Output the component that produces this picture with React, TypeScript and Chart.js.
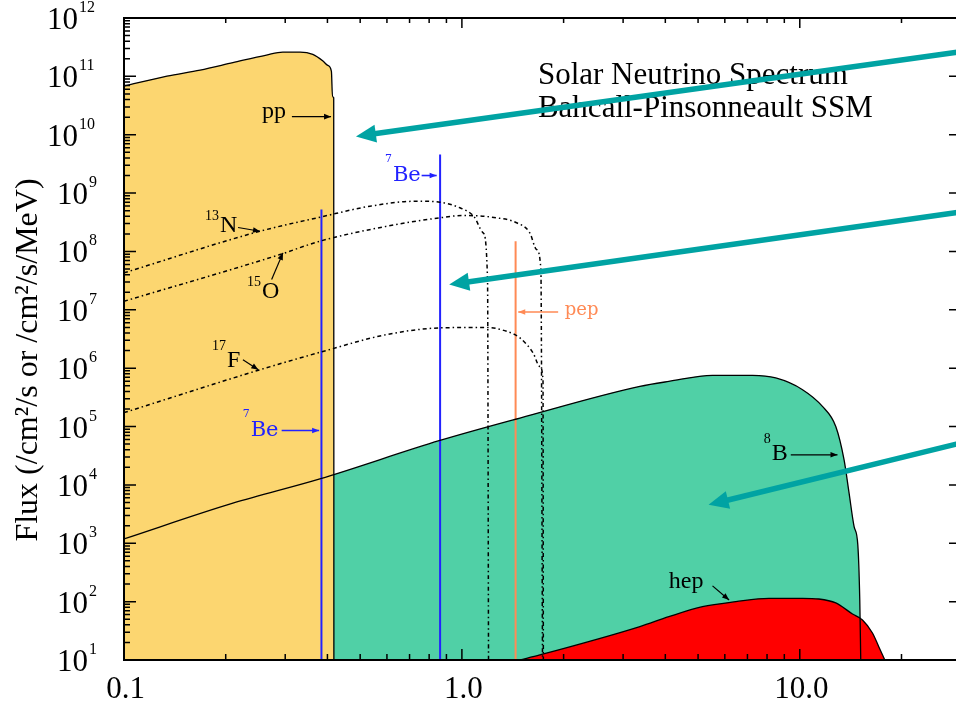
import { useEffect, useRef } from 'react';
import { Chart, registerables } from 'chart.js';

Chart.register(...registerables);

// ---------- axes ----------
const X_MIN = 0.1;
const X_MAX = 30;
const Y_MIN = 10;
const Y_MAX = 1e12;
const xTickValues = [0.1, 1, 10];
const xTickLabels = ['0.1', '1.0', '10.0'];
const yTickExponents = [1, 2, 3, 4, 5, 6, 7, 8, 9, 10, 11, 12];
const yAxisTitle = 'Flux (/cm²/s or /cm²/s/MeV)';
const titleLines = ['Solar Neutrino Spectrum', 'Bahcall-Pinsonneault SSM'];
const titleX = 1.679;
const titleY = [7.29e10, 1.98e10];

// ---------- spectra (energy MeV, flux) ----------
const ppEnergy = [0.1, 0.134, 0.168, 0.21, 0.264, 0.295, 0.332, 0.362, 0.388, 0.401, 0.411, 0.414, 0.4175, 0.418];
const ppFlux = [6.8e10, 1.01e11, 1.28e11, 1.72e11, 2.32e11, 2.61e11, 2.61e11, 2.38e11, 1.83e11, 1.54e11, 1.22e11, 4.5e10, 4.3e10, 10];

const b8Energy = [0.1, 0.21, 0.38, 0.861, 1.485, 3.363, 4.097, 5.517, 7.245, 8.49, 10.19, 11.67, 12.78, 13.52, 13.99, 14.48, 14.85, 15.05, 15.15];
const b8Flux = [1.19e3, 4.87e3, 1.27e4, 5.78e4, 1.4e5, 4.88e5, 5.94e5, 7.53e5, 7.53e5, 6.79e5, 4.28e5, 2.21e5, 1.0e5, 2.7e4, 7.3e3, 1.93e3, 9.4e2, 1.07e2, 10];

const hepEnergy = [1.485, 1.701, 3.363, 4.097, 5.153, 6.467, 8.096, 10.19, 11.38, 12.78, 14.32, 15.33, 16.41, 17.13, 17.85];
const hepFlux = [10, 12.2, 37.3, 55.3, 82, 100, 114, 114, 111, 95, 61.5, 48.5, 29, 16.9, 10];

const n13Energy = [0.1, 0.2526, 0.3845, 0.5343, 0.7345, 0.8608, 0.9865, 1.08, 1.156, 1.191, 1.199];
const n13Flux = [4.3e7, 2.22e8, 3.92e8, 5.96e8, 7.26e8, 6.98e8, 5.6e8, 4.13e8, 2.08e8, 3.3e7, 10];

const o15Energy = [0.1, 0.2894, 0.3801, 0.5988, 0.8608, 1.009, 1.267, 1.451, 1.589, 1.663, 1.713, 1.732];
const o15Flux = [1.4e7, 8.85e7, 1.5e8, 2.7e8, 3.77e8, 4.13e8, 3.77e8, 3.1e8, 2.08e8, 1.08e8, 4.9e7, 10];

const f17Energy = [0.1, 0.2526, 0.3801, 0.5988, 0.8608, 1.183, 1.356, 1.485, 1.625, 1.701, 1.738, 1.742];
const f17Flux = [1.73e5, 9.4e5, 1.87e6, 3.76e6, 4.9e6, 5.0e6, 4.28e6, 3.3e6, 1.82e6, 1.07e6, 6.35e5, 10];

// line sources
const be7Energy = [0.384, 0.862];
const be7Flux = [5.24e8, 4.6e9];
const pepEnergy = [1.442];
const pepFlux = [1.5e8];

// ---------- colours ----------
const YELLOW = '#FCD670';
const GREEN = '#50D0A6';
const RED = '#FF0000';
const BLUE = '#2222FF';
const ORANGE = '#FF8A55';
const TEAL = '#00A3A3';

// ---------- annotations (data coordinates) ----------
type Note = {
  text: string; sup?: string; x: number; y: number; color: string; alt: boolean;
  size: number; supSize: number; supDy: number; arrow: number[];
};
const notes: Note[] = [
  { text: 'pp', x: 0.256, y: 1.905e10, color: '#000', alt: false, size: 24, supSize: 14, supDy: 0, arrow: [0.314, 2.04e10, 0.41, 2.04e10] },
  { text: 'N', sup: '13', x: 0.1737, y: 2.19e8, color: '#000', alt: false, size: 24, supSize: 14, supDy: 12, arrow: [0.2175, 2.57e8, 0.2526, 2.22e8] },
  { text: 'O', sup: '15', x: 0.2311, y: 1.62e7, color: '#000', alt: false, size: 24, supSize: 14, supDy: 12, arrow: [0.2735, 3.3e7, 0.2954, 9.46e7] },
  { text: 'F', sup: '17', x: 0.1821, y: 1.06e6, color: '#000', alt: false, size: 24, supSize: 14, supDy: 17, arrow: [0.2249, 1.4e6, 0.2497, 9.42e5] },
  { text: 'Be', sup: '7', x: 0.2245, y: 6.76e4, color: BLUE, alt: true, size: 21, supSize: 11, supDy: 19, arrow: [0.2928, 8.57e4, 0.378, 8.57e4] },
  { text: 'Be', sup: '7', x: 0.5918, y: 1.6e9, color: BLUE, alt: true, size: 21, supSize: 11, supDy: 19, arrow: [0.76, 2.0e9, 0.842, 2.0e9] },
  { text: 'pep', x: 2.017, y: 8.28e6, color: ORANGE, alt: true, size: 18, supSize: 11, supDy: 0, arrow: [1.927, 9.2e6, 1.468, 9.2e6] },
  { text: 'B', sup: '8', x: 7.827, y: 2.7e4, color: '#000', alt: false, size: 24, supSize: 14, supDy: 17, arrow: [9.405, 3.28e4, 12.93, 3.28e4] },
  { text: 'hep', x: 4.097, y: 171.8, color: '#000', alt: false, size: 24, supSize: 14, supDy: 0, arrow: [5.517, 186, 6.177, 107] },
];

// big teal pointer arrows: [tailX, tailY, tipX, tipY]
const pointerArrows = [
  [32.95, 2.87e11, 0.4858, 9.35e9],
  [32.95, 5.15e8, 0.917, 2.71e7],
  [32.95, 5.98e4, 5.37, 4.56e3],
];

const SERIF = '"Liberation Serif", "Times New Roman", serif';
const ALT = '"DejaVu Serif", serif';

const pts = (xs: number[], ys: number[]) => xs.map((x, i) => ({ x, y: ys[i] }));

function arrowHead(ctx: CanvasRenderingContext2D, x1: number, y1: number, x2: number, y2: number, len: number, half: number) {
  const a = Math.atan2(y2 - y1, x2 - x1);
  ctx.beginPath();
  ctx.moveTo(x2, y2);
  ctx.lineTo(x2 - len * Math.cos(a) + half * Math.sin(a), y2 - len * Math.sin(a) - half * Math.cos(a));
  ctx.lineTo(x2 - len * Math.cos(a) - half * Math.sin(a), y2 - len * Math.sin(a) + half * Math.cos(a));
  ctx.closePath();
  ctx.fill();
}

const overlay = {
  id: 'overlay',
  afterDraw(chart: any) {
    const { ctx, chartArea: a, scales } = chart;
    const xs = scales.x;
    const ys = scales.y;
    const X = (v: number) => xs.getPixelForValue(v);
    const Y = (v: number) => ys.getPixelForValue(v);
    ctx.save();

    // frame
    ctx.strokeStyle = '#000';
    ctx.lineWidth = 2;
    ctx.strokeRect(a.left, a.top, a.right - a.left, a.bottom - a.top);

    // ticks
    ctx.lineWidth = 1.5;
    ctx.beginPath();
    for (let d = -1; d <= 1; d++) {
      for (let m = 1; m <= 9; m++) {
        const v = m * Math.pow(10, d);
        if (v < X_MIN * 0.999 || v > X_MAX * 1.001) continue;
        const px = X(v);
        const major = m === 1;
        ctx.moveTo(px, a.bottom); ctx.lineTo(px, a.bottom - (major ? 11 : 6));
        ctx.moveTo(px, a.top); ctx.lineTo(px, a.top + (major ? 10 : 5));
      }
    }
    for (let d = 1; d <= 12; d++) {
      for (let m = 1; m <= 9; m++) {
        const v = m * Math.pow(10, d);
        if (v > Y_MAX * 1.001) continue;
        const py = Y(v);
        const major = m === 1;
        ctx.moveTo(a.left, py); ctx.lineTo(a.left + (major ? 12 : 6), py);
        ctx.moveTo(a.right, py); ctx.lineTo(a.right - (major ? 12 : 5), py);
      }
    }
    ctx.stroke();

    // tick labels
    ctx.fillStyle = '#000';
    ctx.textBaseline = 'alphabetic';
    ctx.font = `31px ${SERIF}`;
    ctx.textAlign = 'center';
    xTickValues.forEach((v, i) => ctx.fillText(xTickLabels[i], X(v) + 1.5, a.bottom + 38));
    yTickExponents.forEach((e) => {
      const py = Y(Math.pow(10, e));
      const s = String(e);
      const right10 = a.left - 26 - 10 * s.length;
      ctx.font = `31px ${SERIF}`;
      ctx.textAlign = 'right';
      ctx.fillText('10', right10, py + 11);
      ctx.font = `16px ${SERIF}`;
      ctx.textAlign = 'left';
      ctx.fillText(s, right10 + 1, py - 6);
    });

    // y axis title
    ctx.save();
    ctx.translate(37, 360);
    ctx.rotate(-Math.PI / 2);
    ctx.font = `32px ${SERIF}`;
    ctx.textAlign = 'center';
    ctx.fillText(yAxisTitle, 0, 0);
    ctx.restore();

    // chart title
    ctx.font = `31px ${SERIF}`;
    ctx.textAlign = 'left';
    titleLines.forEach((t, i) => ctx.fillText(t, X(titleX), Y(titleY[i])));

    // annotations
    notes.forEach((n) => {
      const fam = n.alt ? ALT : SERIF;
      ctx.fillStyle = n.color;
      ctx.strokeStyle = n.color;
      let px = X(n.x);
      const py = Y(n.y);
      if (n.sup) {
        ctx.font = `${n.supSize}px ${fam}`;
        ctx.fillText(n.sup, px, py - n.supDy);
        px += ctx.measureText(n.sup).width + 1;
      }
      ctx.font = `${n.size}px ${fam}`;
      ctx.fillText(n.text, px, py);
      const [ax1, ay1, ax2, ay2] = n.arrow;
      const x1 = X(ax1), y1 = Y(ay1), x2 = X(ax2), y2 = Y(ay2);
      ctx.lineWidth = n.alt ? 1.6 : 1.2;
      ctx.beginPath();
      ctx.moveTo(x1, y1);
      ctx.lineTo(x2, y2);
      ctx.stroke();
      arrowHead(ctx, x1, y1, x2, y2, 7, 2.8);
    });

    // teal pointer arrows
    ctx.fillStyle = TEAL;
    ctx.strokeStyle = TEAL;
    ctx.lineWidth = 5.5;
    ctx.lineCap = 'butt';
    pointerArrows.forEach(([tx, ty, hx, hy]) => {
      const x1 = X(tx), y1 = Y(ty), x2 = X(hx), y2 = Y(hy);
      const ang = Math.atan2(y2 - y1, x2 - x1);
      ctx.beginPath();
      ctx.moveTo(x1, y1);
      ctx.lineTo(x2 - 15 * Math.cos(ang), y2 - 15 * Math.sin(ang));
      ctx.stroke();
      arrowHead(ctx, x1, y1, x2, y2, 20, 9);
    });

    ctx.restore();
  },
};

export default function App() {
  const ref = useRef<HTMLCanvasElement>(null);
  useEffect(() => {
    const canvas = ref.current;
    if (!canvas) return;
    const dashDot = [4, 3, 1.5, 3];
    const curve = (data: any, extra: any) => ({
      data, borderColor: '#000', cubicInterpolationMode: 'monotone', ...extra,
    });
    const chart = new Chart(canvas, {
      type: 'scatter',
      data: {
        datasets: [
          { label: 'pp', ...curve(pts(ppEnergy, ppFlux), { borderWidth: 1.3, backgroundColor: YELLOW, fill: 'start' }) },
          { label: 'hep', ...curve(pts(hepEnergy, hepFlux), { borderWidth: 1.3, backgroundColor: RED, fill: 'start' }) },
          { label: '8B', ...curve(pts(b8Energy, b8Flux), { borderWidth: 1.3, backgroundColor: GREEN, fill: 'start' }) },
          { label: '13N', ...curve(pts(n13Energy, n13Flux), { borderWidth: 1.5, borderDash: dashDot, fill: false }) },
          { label: '15O', ...curve(pts(o15Energy, o15Flux), { borderWidth: 1.5, borderDash: dashDot, fill: false }) },
          { label: '17F', ...curve(pts(f17Energy, f17Flux), { borderWidth: 1.5, borderDash: dashDot, fill: false }) },
          ...be7Energy.map((e, i) => ({
            label: '7Be ' + e, data: [{ x: e, y: Y_MIN }, { x: e, y: be7Flux[i] }], borderColor: BLUE, borderWidth: 2, fill: false,
          })),
          ...pepEnergy.map((e, i) => ({
            label: 'pep', data: [{ x: e, y: Y_MIN }, { x: e, y: pepFlux[i] }], borderColor: ORANGE, borderWidth: 2, fill: false,
          })),
        ] as any,
      },
      options: {
        animation: false,
        responsive: false,
        showLine: true,
        elements: { point: { radius: 0, hoverRadius: 0 }, line: { tension: 0 } },
        layout: { padding: { left: 124, top: 18, right: 14, bottom: 43 } },
        scales: {
          x: { type: 'logarithmic', min: X_MIN, max: X_MAX, display: false },
          y: { type: 'logarithmic', min: Y_MIN, max: Y_MAX, display: false },
        },
        plugins: {
          legend: { display: false },
          tooltip: { enabled: false },
          filler: { propagate: false, drawTime: 'beforeDatasetsDraw' },
        },
      } as any,
      plugins: [overlay],
    });
    return () => chart.destroy();
  }, []);
  return (
    <div style={{ position: 'fixed', left: 0, top: 0, width: 975, height: 703, overflow: 'hidden', background: '#fff' }}>
      <canvas ref={ref} width={975} height={703} style={{ display: 'block', width: 975, height: 703 }} />
    </div>
  );
}
